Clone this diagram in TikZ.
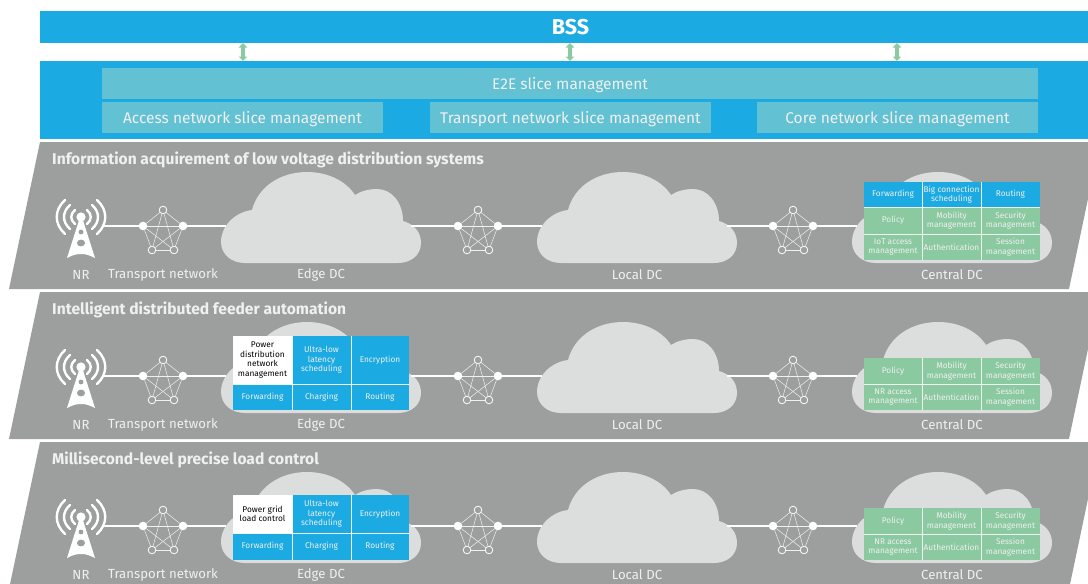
\documentclass[tikz,border=0pt]{standalone}
\usepackage{fontspec}
\setmainfont{Fira Sans}
\usetikzlibrary{arrows.meta}
\definecolor{bssblue}{HTML}{1BAAE2}
\definecolor{mgmtteal}{HTML}{62C1D3}
\definecolor{funcgreen}{HTML}{8BC9A1}
\definecolor{panelgray}{HTML}{9D9E9E}
\definecolor{cloudgray}{HTML}{DCDDDD}
\definecolor{labelgray}{HTML}{F0F0F0}
\tikzset{
	bar/.style = {rectangle, inner sep=0pt, outer sep=0pt, text=labelgray},
	mgmt/.style 2 args = {bar, fill=mgmtteal, minimum width=#1pt, minimum height=#2pt, text depth=0pt, font=\fontsize{15.5}{18}\selectfont},
	cell/.style 2 args = {rectangle, inner sep=0pt, outer sep=0pt, align=center, minimum width=#1pt, minimum height=#2pt, font=\fontsize{8.3}{9.6}\selectfont},
	bluecell/.style 2 args = {cell={#1}{#2}, fill=bssblue, text=labelgray},
	greencell/.style 2 args = {cell={#1}{#2}, fill=funcgreen, text=labelgray},
	whitecell/.style 2 args = {cell={#1}{#2}, fill=white, text=black},
	gridline/.style = {draw=white!85!funcgreen, line width=0.7pt},
	caption/.style = {text=labelgray, inner sep=0pt, font=\fontsize{13.2}{15}\selectfont},
	rowtitle/.style = {anchor=west, text=labelgray, inner sep=0pt, font=\fontsize{15.6}{18}\selectfont\bfseries},
	link/.style = {draw=white, line width=1.2pt},
	sync/.style = {draw=funcgreen, line width=3.4pt, {Triangle[length=4.5pt,width=8.5pt]}-{Triangle[length=4.5pt,width=8.5pt]}},
	netsolid/.style = {circle, fill=white, minimum size=8.6pt, inner sep=0pt, outer sep=0pt},
	netopen/.style = {circle, draw=white, line width=0.8pt, minimum size=7.6pt, inner sep=0pt, outer sep=0pt},
	% five node mesh, origin on the link
	netpic/.pic = {
		\node[netopen] (-t) at (0,-16) {};
		\node[netsolid] (-l) at (-20,0) {};
		\node[netsolid] (-r) at (20,0) {};
		\node[netopen] (-a) at (-11,24) {};
		\node[netopen] (-b) at (11,24) {};
		\foreach \from/\to in {t/l,t/r,t/a,t/b,l/r,l/a,l/b,r/a,r/b,a/b}
			\draw[white!85!panelgray, line width=0.5pt] (-\from) -- (-\to);
	},
	% antenna, origin on the dot at its top
	nrpic/.pic = {
		\fill[white] (0,-3) -- (-14,41) .. controls (-8,38) and (-5,37) .. (0,37) .. controls (5,37) and (8,38) .. (14,41) -- cycle;
		\fill[white] (0,0) circle (4.6pt);
		\fill[panelgray] (0,15) circle (2.4pt);
		\fill[panelgray] (0,26) ellipse (4pt and 3.4pt);
		\foreach \s in {-1,1} {
			\draw[white, line width=2.4pt, line cap=round, xscale=\s] (6,-7) .. controls (11,-3) and (11,3) .. (6,7);
			\draw[white, line width=2.4pt, line cap=round, xscale=\s] (11,-12) .. controls (19,-5) and (19,5) .. (11,12);
			\draw[white, line width=2.4pt, line cap=round, xscale=\s] (16,-17) .. controls (27,-7) and (27,7) .. (16,17);
		}
		\coordinate (-e) at (23,9);
	},
	% data centre, origin at the left end of the link
	dcpic/.pic = {
		\fill[cloudgray] (24,91) .. controls (10,91) and (0,82) .. (0,70)
			.. controls (0,54) and (14,40) .. (31,38)
			.. controls (37,15) and (59,0) .. (86,0)
			.. controls (107,0) and (125,9) .. (134,23)
			.. controls (140,19) and (148,17) .. (156,17)
			.. controls (171,17) and (182,31) .. (182,49)
			.. controls (193,52) and (200,60) .. (200,71)
			.. controls (200,83) and (190,91) .. (177,91) -- cycle;
		\coordinate (-w) at (5,54);
		\coordinate (-e) at (190,54);
	}
}
\begin{document}
\begin{tikzpicture}[x=1pt, y=-1pt]
	\useasboundingbox (0,0) rectangle (1088,584);
	\clip (0,0) rectangle (1088,584);

	\node[bar, fill=bssblue, minimum width=1048pt, minimum height=32pt] (bss) at (564,27) {};
	\node[bar, text=white, font=\fontsize{21.5}{24}\selectfont\bfseries] (bsstext) at (570.5,27) {BSS};
	\node[bar, fill=bssblue, minimum width=1048pt, minimum height=78pt] (mgmt) at (564,100) {};
	\node[mgmt={936}{31}] (e2e) at (570,83.5) {E2E slice management};
	\node[mgmt={281}{31}] (access) at (242.5,117.5) {Access network slice management};
	\node[mgmt={281}{31}] (transport) at (570.5,117.5) {Transport network slice management};
	\node[mgmt={281}{31}] (core) at (897.5,117.5) {Core network slice management};

	\foreach \n/\x in {a/243,b/570,c/897} {
		\coordinate (sync\n t) at (\x,43);
		\coordinate (sync\n b) at (\x,61);
		\draw[sync] (sync\n t) -- (sync\n b);
	}

	\foreach \row/\rowy/\title in {
		1/0/Information acquirement of low voltage distribution systems,
		2/150/Intelligent distributed feeder automation,
		3/300/Millisecond-level precise load control} {
		\begin{scope}[shift={(0,\rowy)}]
			\fill[panelgray] (40,142) -- (1100,142) -- (1069,289) -- (9,289) -- cycle;
			\node[rowtitle] (title\row) at (52,160) {\title};

			\pic (nr\row) at (81,217) {nrpic};
			\pic (net\row a) at (163,226) {netpic};
			\pic (net\row b) at (478,226) {netpic};
			\pic (net\row c) at (793,226) {netpic};
			\pic (edge\row) at (221,172) {dcpic};
			\pic (local\row) at (537,172) {dcpic};
			\pic (central\row) at (852,172) {dcpic};

			\draw[link] (nr\row-e) -- (net\row a-l);
			\draw[link] (net\row a-r) -- (edge\row-w);
			\draw[link] (edge\row-e) -- (net\row b-l);
			\draw[link] (net\row b-r) -- (local\row-w);
			\draw[link] (local\row-e) -- (net\row c-l);
			\draw[link] (net\row c-r) -- (central\row-w);

			\node[caption] (nrlabel\row) at (81,274.5) {NR};
			\node[caption] (netlabel\row) at (163,274.5) {Transport network};
			\node[caption] (edgelabel\row) at (321,274.5) {Edge DC};
			\node[caption] (locallabel\row) at (637,274.5) {Local DC};
			\node[caption] (centrallabel\row) at (952,274.5) {Central DC};
		\end{scope}
	}

	% first row, central DC
	\node[bluecell={58}{25}] (fwd) at (893,194.5) {Forwarding};
	\node[bluecell={59}{25}] (big) at (951.5,194.5) {Big connection\\scheduling};
	\node[bluecell={59}{25}] (rt) at (1010.5,194.5) {Routing};
	\node[greencell={58}{27}] (pol) at (893,220.5) {Policy};
	\node[greencell={59}{27}] (mob) at (951.5,220.5) {Mobility\\management};
	\node[greencell={59}{27}] (sec) at (1010.5,220.5) {Security\\management};
	\node[greencell={58}{26}] (iot) at (893,247) {IoT access\\management};
	\node[greencell={59}{26}] (auth) at (951.5,247) {Authentication};
	\node[greencell={59}{26}] (ses) at (1010.5,247) {Session\\management};
	\draw[gridline] (fwd.north east) -- (iot.south east);
	\draw[gridline] (big.north east) -- (auth.south east);
	\draw[gridline] (fwd.south west) -- (rt.south east);
	\draw[gridline] (pol.south west) -- (sec.south east);

	% second row, edge DC
	\node[whitecell={59}{48}] (pdn) at (262.5,360) {Power\\distribution\\network\\management};
	\node[bluecell={59}{48}] (ull2) at (321.5,360) {Ultra-low\\latency\\scheduling};
	\node[bluecell={58}{48}] (enc2) at (380,360) {Encryption};
	\node[bluecell={59}{26}] (fwd2) at (262.5,397) {Forwarding};
	\node[bluecell={59}{26}] (chg2) at (321.5,397) {Charging};
	\node[bluecell={58}{26}] (rt2) at (380,397) {Routing};
	\draw[gridline] (pdn.north east) -- (fwd2.south east);
	\draw[gridline] (ull2.north east) -- (chg2.south east);
	\draw[gridline] (pdn.south west) -- (enc2.south east);

	% third row, edge DC
	\node[whitecell={59}{38}] (load) at (262.5,514) {Power grid\\load control};
	\node[bluecell={59}{38}] (ull3) at (321.5,514) {Ultra-low\\latency\\scheduling};
	\node[bluecell={58}{38}] (enc3) at (380,514) {Encryption};
	\node[bluecell={59}{27}] (fwd3) at (262.5,546.5) {Forwarding};
	\node[bluecell={59}{27}] (chg3) at (321.5,546.5) {Charging};
	\node[bluecell={58}{27}] (rt3) at (380,546.5) {Routing};
	\draw[gridline] (load.north east) -- (fwd3.south east);
	\draw[gridline] (ull3.north east) -- (chg3.south east);
	\draw[gridline] (load.south west) -- (enc3.south east);

	% central DC of the lower rows
	\foreach \row/\y in {2/150,3/300} {
		\node[greencell={58}{26}] (pol\row) at (893,221+\y) {Policy};
		\node[greencell={59}{26}] (mob\row) at (951.5,221+\y) {Mobility\\management};
		\node[greencell={59}{26}] (sec\row) at (1010.5,221+\y) {Security\\management};
		\node[greencell={58}{26}] (nr\row acc) at (893,247+\y) {NR access\\management};
		\node[greencell={59}{26}] (auth\row) at (951.5,247+\y) {Authentication};
		\node[greencell={59}{26}] (ses\row) at (1010.5,247+\y) {Session\\management};
		\draw[gridline] (pol\row.north east) -- (nr\row acc.south east);
		\draw[gridline] (mob\row.north east) -- (auth\row.south east);
		\draw[gridline] (pol\row.south west) -- (sec\row.south east);
	}
\end{tikzpicture}
\end{document}
